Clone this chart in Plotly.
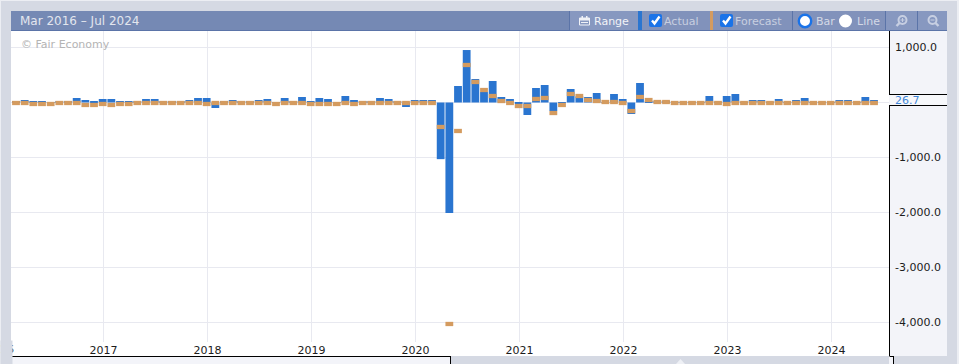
import plotly.graph_objects as go

months = list(range(100))
actual = [15, 45, 10, 27, 5, 15, 15, 82, 45, 27, 64, 64, 27, 27, 15, 64, 64, 15, 15, 15,
          45, 82, 82, -100, 15, 45, 15, 15, 45, 64, 5, 82, 15, 100, 27, 82, 64, 5, 118, 45,
          15, 15, 82, 64, 15, -82, 45, 45, 45, -1030, -2010, 300, 954, 427, 191, 391, 100, 64, -27, -227,
          264, 318, -155, -9, 245, 110, 100, 173, 5, 155, 64, -209, 355, 30, 10, 10, 5, 5, 5, 5,
          118, 5, 118, 155, 5, 45, 45, 5, 64, 5, 45, 82, 5, 5, 5, 45, 45, 5, 100, 45]
forecast = [-9, -9, -27, -27, -27, -9, -9, -9, -45, -45, -27, -45, -27, -27, -9, -9, -9, -9, -9, -9,
            -9, -9, -27, -9, -9, -9, -9, -9, -9, -9, -27, -9, -9, -9, -27, -27, -27, -27, -9, -27,
            -9, -9, -9, -9, -9, -9, -9, -9, -9, -445, -4027, -518, 682, 373, 227, 118, 27, -9, -64, -64,
            64, 82, -191, -45, 155, 118, 45, 27, 9, 9, -9, -155, 100, 45, 9, 9, -9, -9, -9, -9,
            -9, -9, -27, -9, -9, -9, -9, -9, -9, -9, -9, -9, -9, -9, -9, -9, -9, -9, -9, -9]
year_labels = ["2017", "2018", "2019", "2020", "2021", "2022", "2023", "2024"]
year_months = [10, 22, 34, 46, 58, 70, 82, 94]
y_ticks = [1000, 0, -1000, -2000, -3000, -4000]
y_labels = ["1,000.0", "", "-1,000.0", "-2,000.0", "-3,000.0", "-4,000.0"]
period = "Mar 2016 – Jul 2024"
current = "26.7"

W, H = 959, 364
FONT = "DejaVu Sans"
BG = "#d5d9e3"
HEAD = "#7589b4"
HEAD2 = "#8192bb"
HEAD3 = "#8798c0"
SEP = "#5b74a8"
PANEL = "#f3f4f9"
BLUE = "#2a75d0"
ORANGE = "#d49b5f"
GRID = "#e8e9f0"
TICK = "#1c1c1c"
MARK = 78  # forecast marker thickness in value units


def fx(p):
    return p / W


def fy(p):
    return 1 - p / H


shapes = []


def rect(x0, y0, x1, y1, fill, layer="above"):
    shapes.append(dict(type="rect", xref="paper", yref="paper", x0=fx(x0), x1=fx(x1),
                       y0=fy(y1), y1=fy(y0), fillcolor=fill, line_width=0, layer=layer))


def line(x0, y0, x1, y1, color, w=1):
    shapes.append(dict(type="line", xref="paper", yref="paper", x0=fx(x0), x1=fx(x1),
                       y0=fy(y0), y1=fy(y1), line=dict(color=color, width=w), layer="above"))


def circle(cx, cy, r, fill, lc=None, lw=0):
    shapes.append(dict(type="circle", xref="paper", yref="paper", x0=fx(cx - r), x1=fx(cx + r),
                       y0=fy(cy + r), y1=fy(cy - r), fillcolor=fill,
                       line=dict(color=lc or fill, width=lw), layer="above"))


def checkbox(x):
    shapes.append(dict(type="path", xref="paper", yref="paper",
                       path=" ".join([
                           f"M{fx(x + 2)},{fy(14)}", f"L{fx(x + 11)},{fy(14)}",
                           f"Q{fx(x + 13)},{fy(14)} {fx(x + 13)},{fy(16)}", f"L{fx(x + 13)},{fy(25)}",
                           f"Q{fx(x + 13)},{fy(27)} {fx(x + 11)},{fy(27)}", f"L{fx(x + 2)},{fy(27)}",
                           f"Q{fx(x)},{fy(27)} {fx(x)},{fy(25)}", f"L{fx(x)},{fy(16)}",
                           f"Q{fx(x)},{fy(14)} {fx(x + 2)},{fy(14)}", "Z"]),
                       fillcolor="#1a73e8", line_width=0, layer="above"))
    shapes.append(dict(type="path", xref="paper", yref="paper",
                       path=f"M{fx(x + 3)},{fy(20.5)} L{fx(x + 5.5)},{fy(23.5)} L{fx(x + 10.5)},{fy(16.5)}",
                       line=dict(color="white", width=2.4), layer="above"))


# outer chrome
rect(0, 0, W, 1, "#eceef3")
rect(0, 0, 1, H, "#eceef3")
rect(957, 0, W, H, "#eceef3")

# white strip that holds the year labels, right value panel, bottom strip
rect(11, 342, 889, 356, "#ffffff", "below")
rect(889, 31, 947, 356, PANEL, "below")
rect(890, 95, 947, 105, "#f7f8fb", "below")
rect(889, 356, 893, H, PANEL, "below")
rect(11, 356, 450, H, PANEL, "below")
line(889.5, 31, 889.5, 94, "#000000")
line(889.5, 105, 889.5, 356, "#000000")
line(889, 94.5, 947, 94.5, "#000000")
line(889, 105.5, 947, 105.5, "#000000")
line(11, 356.5, 450.5, 356.5, "#000000")
line(450.5, 356, 450.5, H, "#000000")
line(889.5, 356.5, 893.5, 356.5, "#000000")
line(893.5, 356, 893.5, H, "#000000")
shapes.append(dict(type="path", xref="paper", yref="paper",
                   path=f"M{fx(676)},{fy(364)} L{fx(680.5)},{fy(359)} L{fx(685)},{fy(364)} Z",
                   fillcolor="#eef0f5", line_width=0, layer="above"))

# header
rect(11, 11, 947, 30, HEAD)
rect(11, 30, 947, 31, SEP)
rect(570, 11, 638, 30, HEAD3)
rect(642, 11, 710, 30, HEAD2)
rect(713, 11, 792, 30, HEAD2)
rect(793, 11, 885, 30, HEAD2)
rect(886, 11, 917, 30, HEAD3)
rect(918, 11, 947, 30, HEAD3)
rect(638, 11, 642, 30, BLUE)
rect(710, 11, 713, 30, ORANGE)
for xs in (569.5, 792.5, 885.5, 917.5):
    line(xs, 11, xs, 30, SEP)

# calendar icon
ICON = "#f0f2f7"
shapes.append(dict(type="rect", xref="paper", yref="paper", x0=fx(579.5), x1=fx(589.5), y0=fy(25), y1=fy(18),
                   line=dict(color=ICON, width=1), fillcolor="rgba(0,0,0,0)", layer="above"))
rect(579.5, 18, 589.5, 20.5, ICON)
rect(581.5, 16, 583, 18, ICON)
rect(586, 16, 587.5, 18, ICON)
line(581, 22.5, 588, 22.5, ICON)

checkbox(649)
checkbox(720)

# radios
circle(805, 21, 6.2, "#ffffff", "#1a73e8", 2.4)
circle(845.5, 21, 6.5, "#ffffff")

# magnifiers
GLASS = "#c7cfe2"
circle(902.5, 20, 4, "rgba(0,0,0,0)", GLASS, 2)
line(899.5, 23, 896.5, 26, GLASS, 2.4)
line(900.5, 20, 904.5, 20, GLASS)
line(902.5, 18, 902.5, 22, GLASS)
circle(932.5, 20, 4, "rgba(0,0,0,0)", GLASS, 2)
line(935.5, 23, 938.5, 26, GLASS, 2.4)
line(930.5, 20, 934.5, 20, GLASS)


def label(x, y, text, color, size=11, anchor="left"):
    return dict(xref="paper", yref="paper", x=fx(x), y=fy(y), text=text, showarrow=False,
                xanchor=anchor, yanchor="middle", font=dict(family=FONT, size=size, color=color),
                borderpad=0, borderwidth=0)


annotations = [
    label(0, 349, "2016", TICK, anchor="center"),
    dict(xref="paper", yref="paper", x=0, y=fy(340), text=" ", showarrow=False, xanchor="left",
         yanchor="top", width=11, height=24, bgcolor=BG, borderpad=0, font=dict(size=11)),
    label(20, 21, period, "#e3e6ee", 12),
    label(21, 44.5, "© Fair Economy", "#b4b4b4", 11),
    label(594, 21, "Range", "#f2f3f7"),
    label(664, 21, "Actual", "#c8cfe0"),
    label(735, 21, "Forecast", "#c8cfe0"),
    label(816, 21, "Bar", "#d4d9e6"),
    label(857, 21, "Line", "#d4d9e6"),
    label(894.5, 100, current, "#3f86d8"),
]

fig = go.Figure()
fig.add_bar(x=months, y=actual, width=0.9, marker=dict(color=BLUE, line_width=0), name="Actual")
fig.add_bar(x=months, y=[MARK] * len(forecast), base=[f - MARK / 2 for f in forecast], width=0.9,
            marker=dict(color=ORANGE, line_width=0), name="Forecast")

fig.update_layout(
    width=W, height=H, margin=dict(l=0, r=0, t=0, b=0), autosize=False,
    paper_bgcolor=BG, plot_bgcolor="#ffffff", showlegend=False, barmode="overlay",
    font=dict(family=FONT, size=11, color=TICK), shapes=shapes, annotations=annotations,
    xaxis=dict(domain=[fx(11), fx(889)], range=[-0.577, 100.73], tickmode="array",
               tickvals=[m + 0.096 for m in year_months], ticktext=year_labels, showgrid=True,
               gridcolor=GRID, gridwidth=1, zeroline=False, ticks="", showline=False,
               tickfont=dict(family=FONT, size=11, color=TICK), ticklabelstandoff=0, automargin=False),
    yaxis=dict(domain=[fy(342), fy(31)], range=[-4354.55, 1300], side="right", tickmode="array",
               tickvals=y_ticks, ticktext=y_labels, showgrid=True, gridcolor=GRID, gridwidth=1,
               zeroline=False, ticks="", showline=False, ticklabelstandoff=5,
               tickfont=dict(family=FONT, size=11, color=TICK), automargin=False),
)

fig.write_html("out.html", config=dict(displayModeBar=False),
               post_script="document.body.style.margin='0';document.body.style.overflow='hidden';")
